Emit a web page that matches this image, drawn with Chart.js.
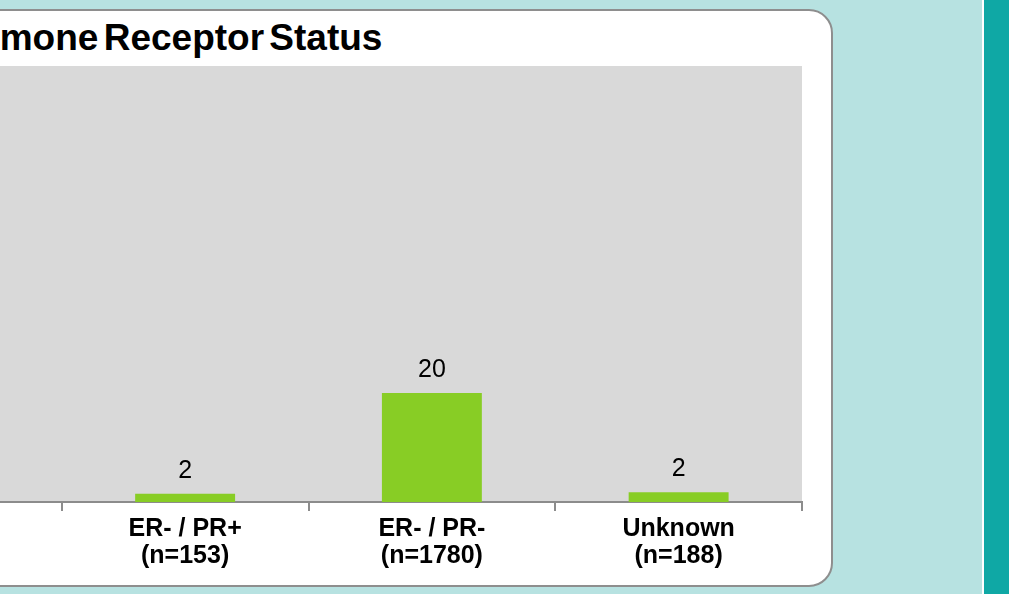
<!DOCTYPE html>
<html>
<head>
<meta charset="utf-8">
<script src="https://cdn.jsdelivr.net/npm/chart.js@4.4.1/dist/chart.umd.min.js"></script>
<style>
    html, body { margin: 0; padding: 0; }
    body {
        width: 1009px; height: 594px; overflow: hidden; position: relative;
        background: #b7e2e1;
        font-family: 'Liberation Sans', Arial, sans-serif;
    }
    #khung {
        position: absolute; left: -100px; top: 9px;
        width: 933px; height: 578px; box-sizing: border-box;
        background: #fff; border: 2px solid #8e8e8e; border-radius: 24px;
    }
    #tieuDe {
        position: absolute; left: -64px; top: 19px;
        font-size: 37px; line-height: 37px; font-weight: bold;
        word-spacing: -5px; color: #000; white-space: nowrap;
    }
    #vachTrang { position: absolute; left: 982px; top: 0; width: 2px; height: 594px; background: #fff; }
    #daiXanh { position: absolute; left: 984px; top: 0; width: 25px; height: 594px; background: #0fa8a5; }
    #bieuDo { position: absolute; left: -195px; top: 0; }
</style>
</head>
<body>
<div id="khung"></div>
<div id="tieuDe">Hormone Receptor Status</div>
<div id="vachTrang"></div>
<div id="daiXanh"></div>
<canvas id="bieuDo" width="1027" height="594"></canvas>

<script>
// du lieu (cot dau tien nam ngoai khung hinh)
const nhanNhom = [
    ['ER+ / PR+', ''],
    ['ER- / PR+', '(n=153)'],
    ['ER- / PR-', '(n=1780)'],
    ['Unknown', '(n=188)']
];
const giaTri = [null, 1.5, 20, 1.8];
const nhanGiaTri = ['', '2', '20', '2'];

const fontHep = "'Liberation Sans Narrow', 'Arial Narrow', 'Liberation Sans', sans-serif";

// nen xam cho vung ve
const nenXam = {
    id: 'nenXam',
    beforeDraw(chart) {
        const { ctx, chartArea: a } = chart;
        ctx.save();
        ctx.fillStyle = '#d9d9d9';
        ctx.fillRect(a.left, a.top, a.right - a.left, a.bottom - a.top);
        ctx.restore();
    }
};

// so tren dau cot
const soTrenCot = {
    id: 'soTrenCot',
    afterDatasetsDraw(chart) {
        const ctx = chart.ctx;
        const meta = chart.getDatasetMeta(0);
        ctx.save();
        ctx.font = '25px ' + fontHep;
        ctx.fillStyle = '#000';
        ctx.textAlign = 'center';
        ctx.textBaseline = 'alphabetic';
        meta.data.forEach((bar, i) => {
            if (giaTri[i] == null) return;
            ctx.fillText(nhanGiaTri[i], bar.x, bar.y - 16);
        });
        ctx.restore();
    }
};

const ctx = document.getElementById('bieuDo').getContext('2d');
new Chart(ctx, {
    type: 'bar',
    data: {
        labels: nhanNhom,
        datasets: [{
            data: giaTri,
            backgroundColor: '#88cd25',
            barPercentage: 0.405,
            categoryPercentage: 1
        }]
    },
    options: {
        responsive: false,
        animation: false,
        layout: { padding: { left: 10, right: 30, top: 66, bottom: 0 } },
        plugins: {
            legend: { display: false },
            tooltip: { enabled: false }
        },
        scales: {
            x: {
                afterFit(scale) { scale.height = 92; },
                border: { display: true, color: '#8c8c8c', width: 2 },
                grid: {
                    drawOnChartArea: false,
                    drawTicks: true,
                    tickLength: 9,
                    color: '#8c8c8c',
                    lineWidth: 2
                },
                ticks: {
                    color: '#000',
                    padding: 5,
                    maxRotation: 0,
                    font: { family: fontHep, size: 25, weight: 'bold', lineHeight: 1.08 }
                }
            },
            y: { display: false, min: 0, max: 80 }
        }
    },
    plugins: [nenXam, soTrenCot]
});
</script>
</body>
</html>
